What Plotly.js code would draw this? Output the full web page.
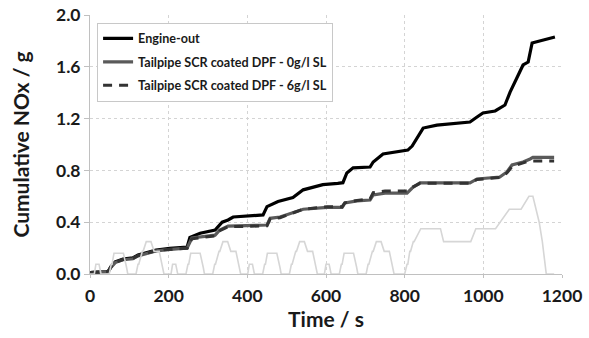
<!DOCTYPE html>
<html>
<head>
<meta charset="utf-8">
<script src="https://cdn.plot.ly/plotly-3.0.1.min.js"></script>
<style>html,body{margin:0;padding:0;background:#fff;}#chart{width:589px;height:338px;}</style>
</head>
<body>
<div id="chart"></div>
<script>
// Engine-out cumulative NOx (g) vs time (s)
var tEngine = [0, 46, 53, 64, 84, 109, 122, 142, 168, 203, 247, 254, 280, 318, 336, 351, 364, 440, 450, 478, 516, 542, 592, 630, 643, 653, 669, 712, 720, 745, 808, 819, 834, 847, 882, 966, 984, 999, 1030, 1055, 1068, 1081, 1101, 1114, 1124, 1131, 1182];
var engineOut = [0.01, 0.018, 0.056, 0.093, 0.116, 0.124, 0.147, 0.165, 0.185, 0.198, 0.208, 0.283, 0.315, 0.34, 0.40, 0.417, 0.44, 0.456, 0.52, 0.56, 0.59, 0.65, 0.69, 0.70, 0.705, 0.78, 0.82, 0.826, 0.865, 0.927, 0.957, 0.988, 1.058, 1.127, 1.15, 1.174, 1.212, 1.243, 1.259, 1.305, 1.405, 1.483, 1.614, 1.637, 1.784, 1.79, 1.83];

// Tailpipe SCR coated DPF - 0 g/l SL
var tTail0 = [0, 46, 53, 64, 84, 109, 122, 142, 168, 198, 247, 259, 280, 318, 330, 351, 450, 458, 483, 526, 542, 603, 641, 648, 679, 712, 720, 750, 806, 819, 839, 966, 984, 1042, 1060, 1073, 1101, 1119, 1126, 1180];
var tail0 = [0.01, 0.018, 0.05, 0.088, 0.11, 0.118, 0.14, 0.158, 0.178, 0.188, 0.20, 0.278, 0.286, 0.30, 0.34, 0.37, 0.378, 0.43, 0.44, 0.48, 0.50, 0.515, 0.515, 0.548, 0.564, 0.571, 0.61, 0.625, 0.625, 0.664, 0.703, 0.703, 0.734, 0.749, 0.788, 0.842, 0.865, 0.888, 0.90, 0.90];

// Tailpipe SCR coated DPF - 6 g/l SL
var tTail6 = [0, 46, 53, 64, 84, 109, 122, 142, 168, 198, 247, 259, 280, 318, 330, 351, 450, 458, 483, 526, 542, 603, 641, 648, 679, 712, 720, 750, 806, 819, 839, 966, 984, 1042, 1060, 1073, 1101, 1112, 1126, 1180];
var tail6 = [0.012, 0.02, 0.052, 0.09, 0.112, 0.12, 0.142, 0.16, 0.18, 0.19, 0.198, 0.272, 0.28, 0.295, 0.335, 0.365, 0.372, 0.425, 0.435, 0.478, 0.50, 0.52, 0.52, 0.55, 0.568, 0.58, 0.628, 0.64, 0.64, 0.67, 0.70, 0.70, 0.73, 0.745, 0.78, 0.83, 0.855, 0.868, 0.872, 0.872];

// Background vehicle speed trace (km/h), drive cycle
var tSpeed = [0, 11, 15, 23, 28, 49, 54, 56, 61, 85, 93, 96, 117, 122, 124, 133, 135, 143, 155, 163, 176, 188,
  195, 206, 210, 218, 223, 244, 249, 251, 256, 280, 288, 291, 312, 317, 319, 328, 330, 338, 350, 358, 371, 383,
  390, 401, 405, 413, 418, 439, 444, 446, 451, 475, 483, 486, 507, 512, 514, 523, 525, 533, 545, 553, 566, 578,
  585, 596, 600, 608, 613, 634, 639, 641, 646, 670, 678, 681, 702, 707, 709, 718, 720, 728, 740, 748, 761, 773,
  780, 800, 806, 808, 813, 815, 822, 824, 841, 891, 899, 968, 981, 1031, 1066, 1096, 1116, 1126, 1142, 1150, 1160, 1180];
var speed = [0, 0, 15, 15, 0, 0, 15, 15, 32, 32, 10, 0, 0, 15, 15, 35, 35, 50, 50, 35, 35, 0,
  0, 0, 15, 15, 0, 0, 15, 15, 32, 32, 10, 0, 0, 15, 15, 35, 35, 50, 50, 35, 35, 0,
  0, 0, 15, 15, 0, 0, 15, 15, 32, 32, 10, 0, 0, 15, 15, 35, 35, 50, 50, 35, 35, 0,
  0, 0, 15, 15, 0, 0, 15, 15, 32, 32, 10, 0, 0, 15, 15, 35, 35, 50, 50, 35, 35, 0,
  0, 0, 15, 15, 35, 35, 50, 50, 70, 70, 50, 50, 70, 70, 100, 100, 120, 120, 80, 50, 0, 0];

var xTicks = [0, 200, 400, 600, 800, 1000, 1200];
var yTicks = [0.0, 0.4, 0.8, 1.2, 1.6, 2.0];
var yTickLabels = ['0.0', '0.4', '0.8', '1.2', '1.6', '2.0'];

var FONT = 'Lato, "Open Sans", sans-serif';

var traces = [
  {x: tEngine, y: engineOut, name: 'Engine-out', type: 'scatter', mode: 'lines',
   line: {color: '#000000', width: 3.2}, legendgroup: 'a'},
  {x: tTail0, y: tail0, name: 'Tailpipe SCR coated DPF - 0g/l SL', type: 'scatter', mode: 'lines',
   line: {color: '#5a5a5a', width: 3.2}, legendgroup: 'b'},
  {x: tTail6, y: tail6, name: 'Tailpipe SCR coated DPF - 6g/l SL', type: 'scatter', mode: 'lines',
   line: {color: '#333333', width: 3, dash: '9px,7px'}, legendgroup: 'c'},
  {x: tSpeed, y: speed, name: 'Speed', type: 'scatter', mode: 'lines', yaxis: 'y2',
   line: {color: '#d6d6d6', width: 1.6}, showlegend: false, hoverinfo: 'skip'}
];

var layout = {
  width: 589, height: 338,
  margin: {l: 90, r: 27, t: 15, b: 64},
  paper_bgcolor: '#ffffff', plot_bgcolor: '#ffffff',
  font: {family: FONT, color: '#1a1a1a'},
  showlegend: true,
  legend: {x: 0.015, y: 0.97, xanchor: 'left', yanchor: 'top',
    bgcolor: '#ffffff', bordercolor: '#c8c8c8', borderwidth: 1,
    font: {family: FONT, size: 12.6, weight: 'bold', color: '#1a1a1a'},
    tracegroupgap: 4, itemwidth: 30},
  xaxis: {range: [0, 1200], tickvals: xTicks, ticktext: xTicks.map(String),
    showgrid: true, gridcolor: '#d4d4d4', griddash: 'dot', gridwidth: 1,
    showline: true, linecolor: '#c0c0c0', linewidth: 1, zeroline: false,
    ticks: 'outside', ticklen: 3, tickcolor: '#c0c0c0', ticklabelstandoff: 3,
    tickfont: {family: FONT, size: 17.5, weight: 'bold', color: '#1a1a1a'},
    title: {text: 'Time / s', font: {family: FONT, size: 21, weight: 'bold', color: '#1a1a1a'}, standoff: 7}},
  yaxis: {range: [0, 2.0], tickvals: yTicks, ticktext: yTickLabels,
    showgrid: true, gridcolor: '#d4d4d4', griddash: 'dot', gridwidth: 1,
    showline: true, linecolor: '#c0c0c0', linewidth: 1, zeroline: false,
    ticks: 'outside', ticklen: 5, tickcolor: '#c0c0c0',
    tickfont: {family: FONT, size: 17.5, weight: 'bold', color: '#1a1a1a'},
    title: {text: 'Cumulative NOx / g', font: {family: FONT, size: 21, weight: 'bold', color: '#1a1a1a'}, standoff: 20}},
  yaxis2: {range: [0, 400], overlaying: 'y', visible: false, showgrid: false, zeroline: false}
};

Plotly.newPlot('chart', traces, layout, {displayModeBar: false, staticPlot: true});
</script>
</body>
</html>
